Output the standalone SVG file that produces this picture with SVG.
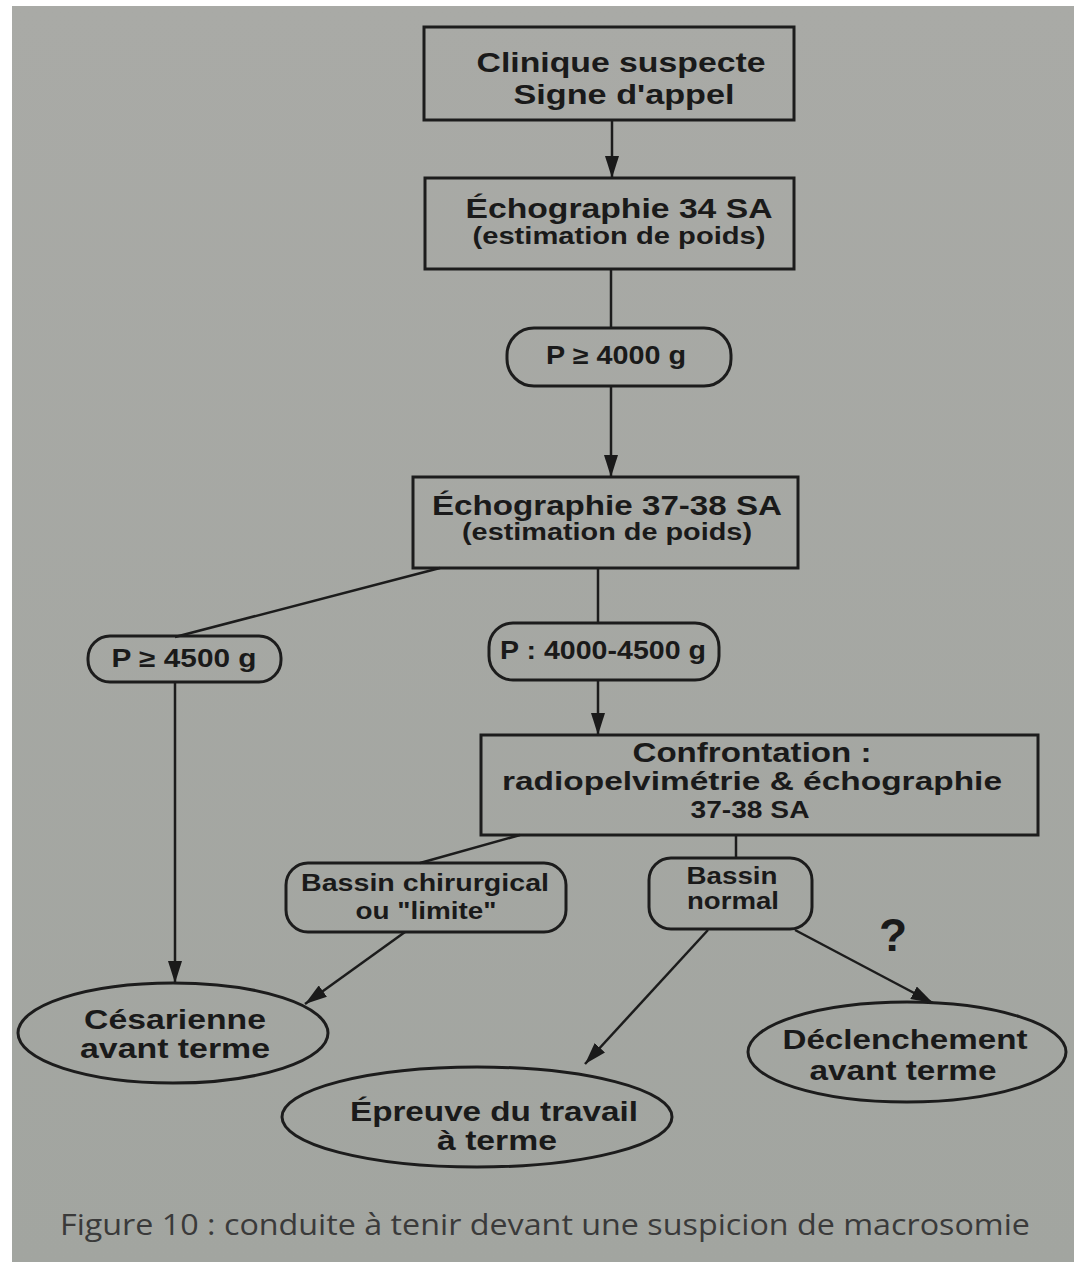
<svg xmlns="http://www.w3.org/2000/svg" width="1074" height="1262" viewBox="0 0 1074 1262">
<defs>
<linearGradient id="bg" x1="0" y1="0" x2="0" y2="1">
<stop offset="0" stop-color="#a9aaa6"/>
<stop offset="1" stop-color="#a2a5a0"/>
</linearGradient>
<marker id="ah" viewBox="0 0 22 14" refX="22" refY="7" markerWidth="22" markerHeight="14" markerUnits="userSpaceOnUse" orient="auto">
<path d="M0,0 L22,7 L0,14 Z" fill="#1a1a1a"/>
</marker>
</defs>
<style>
.shape{fill:none;stroke:#1c1c1c;stroke-width:3}
.con{fill:none;stroke:#1c1c1c;stroke-width:2.5}
.t{font-family:"Liberation Sans",Arial,sans-serif;font-weight:bold;font-size:28px;fill:#1a1a1a;text-anchor:middle}
.p{font-family:"Liberation Sans",Arial,sans-serif;font-weight:bold;font-size:25px;fill:#1a1a1a;text-anchor:middle}
.s{font-family:"Liberation Sans",Arial,sans-serif;font-weight:bold;font-size:23px;fill:#1a1a1a;text-anchor:middle}
.q{font-family:"Liberation Sans",Arial,sans-serif;font-weight:bold;font-size:46px;fill:#1a1a1a;text-anchor:middle}
.cap{font-family:"Open Sans","Noto Sans",sans-serif;font-size:30px;fill:#3a3a3a}
</style>
<rect x="0" y="0" width="1074" height="1262" fill="#ffffff"/>
<rect x="12" y="6" width="1062" height="1256" fill="url(#bg)"/>

<g id="connectors">
<line class="con" x1="612" y1="120" x2="612" y2="178" marker-end="url(#ah)"/>
<line class="con" x1="611" y1="269" x2="611" y2="328"/>
<line class="con" x1="611" y1="386" x2="611" y2="477" marker-end="url(#ah)"/>
<line class="con" x1="440" y1="568" x2="175" y2="637"/>
<line class="con" x1="598" y1="568" x2="598" y2="623"/>
<line class="con" x1="598" y1="680" x2="598" y2="735" marker-end="url(#ah)"/>
<line class="con" x1="520" y1="835" x2="420" y2="863"/>
<line class="con" x1="736" y1="835" x2="736" y2="859"/>
<line class="con" x1="175" y1="682" x2="175" y2="983" marker-end="url(#ah)"/>
<line class="con" x1="405" y1="932" x2="305" y2="1004" marker-end="url(#ah)"/>
<line class="con" x1="708" y1="930" x2="585" y2="1064" marker-end="url(#ah)"/>
<line class="con" x1="795" y1="930" x2="933" y2="1003" marker-end="url(#ah)"/>
</g>

<g id="n1">
<rect class="shape" x="424" y="27" width="370" height="93"/>
<text class="t" x="621" y="72" textLength="289" lengthAdjust="spacingAndGlyphs">Clinique suspecte</text>
<text class="t" x="624" y="104" textLength="221" lengthAdjust="spacingAndGlyphs">Signe d'appel</text>
</g>
<g id="n2">
<rect class="shape" x="425" y="178" width="369" height="91"/>
<text class="t" x="619" y="218" textLength="307" lengthAdjust="spacingAndGlyphs">Échographie 34 SA</text>
<text class="s" x="619" y="244" textLength="293" lengthAdjust="spacingAndGlyphs">(estimation de poids)</text>
</g>
<g id="n3">
<rect class="shape" x="507" y="328" width="224" height="58" rx="27"/>
<text class="p" x="616" y="364" textLength="140" lengthAdjust="spacingAndGlyphs">P ≥ 4000 g</text>
</g>
<g id="n4">
<rect class="shape" x="413" y="477" width="385" height="91"/>
<text class="t" x="607" y="515" textLength="350" lengthAdjust="spacingAndGlyphs">Échographie 37-38 SA</text>
<text class="s" x="607" y="540" textLength="290" lengthAdjust="spacingAndGlyphs">(estimation de poids)</text>
</g>
<g id="n5">
<rect class="shape" x="88" y="636" width="193" height="46" rx="22"/>
<text class="p" x="184" y="667" textLength="145" lengthAdjust="spacingAndGlyphs">P ≥ 4500 g</text>
</g>
<g id="n6">
<rect class="shape" x="489" y="623" width="230" height="57" rx="24"/>
<text class="p" x="603" y="659" textLength="206" lengthAdjust="spacingAndGlyphs">P : 4000-4500 g</text>
</g>
<g id="n7">
<rect class="shape" x="481" y="735" width="557" height="100"/>
<text class="t" x="752" y="762" textLength="239" lengthAdjust="spacingAndGlyphs">Confrontation :</text>
<text class="t" x="752" y="790" style="font-size:26px" textLength="500" lengthAdjust="spacingAndGlyphs">radiopelvimétrie &amp; échographie</text>
<text class="s" x="750" y="818" textLength="119" lengthAdjust="spacingAndGlyphs">37-38 SA</text>
</g>
<g id="n8">
<rect class="shape" x="286" y="863" width="280" height="69" rx="22"/>
<text class="s" x="425" y="891" textLength="248" lengthAdjust="spacingAndGlyphs">Bassin chirurgical</text>
<text class="s" x="426" y="919" textLength="141" lengthAdjust="spacingAndGlyphs">ou "limite"</text>
</g>
<g id="n9">
<rect class="shape" x="649" y="858" width="163" height="71" rx="22"/>
<text class="s" x="732" y="884" textLength="91" lengthAdjust="spacingAndGlyphs">Bassin</text>
<text class="s" x="733" y="909" textLength="92" lengthAdjust="spacingAndGlyphs">normal</text>
</g>
<g id="n10">
<ellipse class="shape" cx="173" cy="1033" rx="155" ry="50"/>
<text class="t" x="175" y="1029" textLength="182" lengthAdjust="spacingAndGlyphs">Césarienne</text>
<text class="t" x="175" y="1058" textLength="190" lengthAdjust="spacingAndGlyphs">avant terme</text>
</g>
<g id="n11">
<ellipse class="shape" cx="477" cy="1117" rx="195" ry="50"/>
<text class="t" x="494" y="1121" textLength="288" lengthAdjust="spacingAndGlyphs">Épreuve du travail</text>
<text class="t" x="497" y="1150" textLength="120" lengthAdjust="spacingAndGlyphs">à terme</text>
</g>
<g id="n12">
<ellipse class="shape" cx="907" cy="1052" rx="159" ry="50"/>
<text class="t" x="905" y="1049" textLength="245" lengthAdjust="spacingAndGlyphs">Déclenchement</text>
<text class="t" x="903" y="1080" textLength="187" lengthAdjust="spacingAndGlyphs">avant terme</text>
</g>
<text class="q" x="893" y="951">?</text>
<text class="cap" x="60" y="1235" textLength="970" lengthAdjust="spacingAndGlyphs">Figure 10 : conduite à tenir devant une suspicion de macrosomie</text>
</svg>
